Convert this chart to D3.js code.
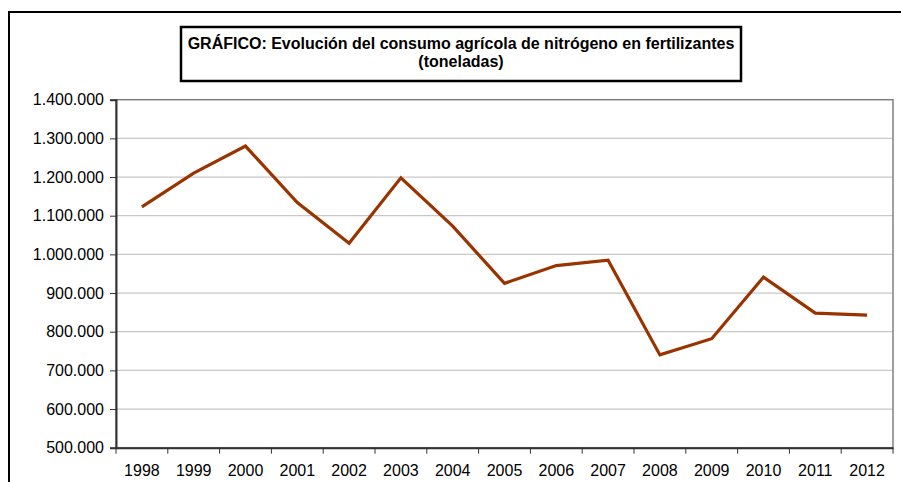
<!DOCTYPE html>
<html><head><meta charset="utf-8">
<script src="https://cdn.jsdelivr.net/npm/d3@7"></script>
<style>body{margin:0;background:#fff}svg{display:block}</style>
</head><body>
<svg id="c" width="901" height="482"></svg>
<script>
const years = ["1998","1999","2000","2001","2002","2003","2004","2005","2006","2007","2008","2009","2010","2011","2012"];
const consumo = [1123000,1210000,1280000,1134000,1029000,1198000,1073000,925000,971000,985000,740000,782000,941000,848000,843000];
const yTicks = [500000,600000,700000,800000,900000,1000000,1100000,1200000,1300000,1400000];
const titleLines = ["GRÁFICO: Evolución del consumo agrícola de nitrógeno en fertilizantes","(toneladas)"];

const svg = d3.select("#c");
const W = 901, H = 482;
const L = 116, R = 893, T = 99.7, B = 447.7;
const font = "'Liberation Sans', Arial, sans-serif";

// outer frame
svg.append("rect").attr("x",9).attr("y",12).attr("width",W).attr("height",H)
  .attr("fill","none").attr("stroke","#000").attr("stroke-width",2);

const x = d3.scaleBand().domain(years).range([L,R]).padding(0);
const y = d3.scaleLinear().domain([500000,1400000]).range([B,T]);

// gridlines
svg.append("g").selectAll("line").data(yTicks.slice(1,-1)).join("line")
  .attr("x1",L).attr("x2",R).attr("y1",d=>y(d)).attr("y2",d=>y(d))
  .attr("stroke","#c8c8c8").attr("stroke-width",1.2);

// plot border
svg.append("rect").attr("x",L).attr("y",T).attr("width",R-L).attr("height",B-T)
  .attr("fill","none").attr("stroke","#808080").attr("stroke-width",1.5);

const fmt = d => d3.format(",")(d).replace(/,/g,".");

const ya = svg.append("g").attr("transform",`translate(${L},0)`)
  .call(d3.axisLeft(y).tickValues(yTicks).tickFormat(fmt).tickSize(6).tickPadding(6));
ya.select(".domain").attr("stroke","#333").attr("stroke-width",2);
ya.selectAll(".tick line").attr("stroke","#333").attr("stroke-width",1);
ya.selectAll("text").attr("font-family",font).attr("font-size",16).attr("fill","#000");

const xa = svg.append("g").attr("transform",`translate(0,${B})`)
  .call(d3.axisBottom(x).tickSize(0).tickPadding(17));
xa.select(".domain").attr("stroke","#333").attr("stroke-width",2);
xa.selectAll("text").attr("font-family",font).attr("font-size",16).attr("fill","#000");
// ticks at band boundaries
const bounds = years.map(d=>x(d)).concat([R]);
xa.append("g").selectAll("line").data(bounds).join("line")
  .attr("x1",d=>d).attr("x2",d=>d).attr("y1",0).attr("y2",6)
  .attr("stroke","#333").attr("stroke-width",1);

// line
const line = d3.line().x((d,i)=>x(years[i])+x.bandwidth()/2).y(d=>y(d));
svg.append("path").datum(consumo).attr("d",line)
  .attr("fill","none").attr("stroke","#993300").attr("stroke-width",3.2)
  .attr("stroke-linejoin","miter");

// title box
svg.append("rect").attr("x",181).attr("y",27).attr("width",560).attr("height",54)
  .attr("fill","#fff").attr("stroke","#000").attr("stroke-width",2.5);
svg.append("g").selectAll("text").data(titleLines).join("text")
  .attr("x",461).attr("y",(d,i)=>49+i*18).attr("text-anchor","middle")
  .attr("font-family",font).attr("font-weight","bold").attr("font-size",16)
  .attr("fill","#000").text(d=>d);
</script>
</body></html>
